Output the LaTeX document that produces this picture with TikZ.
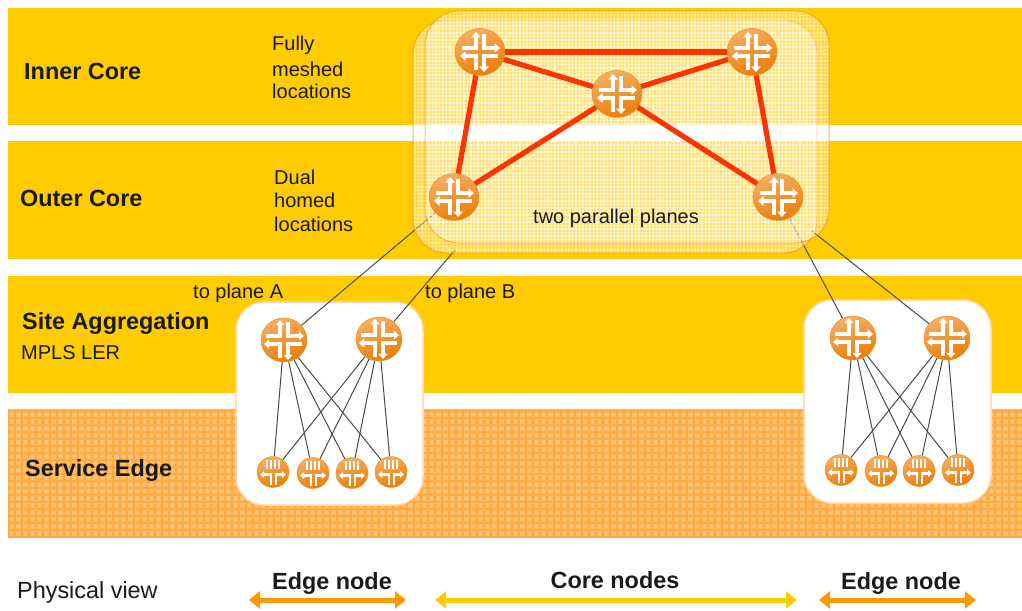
\documentclass[tikz,border=0pt]{standalone}
\usepackage{fontspec}
\setmainfont{Liberation Sans}
\usetikzlibrary{arrows.meta,shapes.geometric,backgrounds}
\pgfdeclarelayer{bands}
\pgfdeclarelayer{thin}
\pgfdeclarelayer{planes}
\pgfsetlayers{bands,thin,planes,main}
\definecolor{bandy}{HTML}{FFCC00}
\definecolor{bando}{HTML}{FFBA62}
\definecolor{gridoo}{HTML}{FFAA40}
\definecolor{gridoi}{HTML}{FFC67E}
\definecolor{rimo}{HTML}{E88A20}
\definecolor{rtl}{HTML}{F6AE62}
\definecolor{rtd}{HTML}{EA7E06}
\definecolor{spano}{HTML}{FF9900}
\definecolor{txt}{HTML}{1A1A1A}
\definecolor{redl}{HTML}{FF3300}
\definecolor{thinl}{HTML}{4A4A4A}
\newcommand{\coreglyph}[1]{%
  \begin{scope}[shift={(path picture bounding box.center)},scale=#1,white,line width=#1*3.9pt,
     >={Triangle[width=#1*9.5pt,length=#1*5.5pt]}]
    \draw[->] (-18,-4) -- (-4,-4) -- (-4,-20);
    \draw[->] (4,-18) -- (4,-4) -- (20,-4);
    \draw[->] (18,4) -- (4,4) -- (4,20);
    \draw[->] (-4,18) -- (-4,4) -- (-20,4);
  \end{scope}}
\newcommand{\edgeglyph}[1]{%
  \begin{scope}[shift={(path picture bounding box.center)},yscale=#1,white,line width=2.4pt,
     >={Triangle[width=6.5pt,length=4pt]}]
    \foreach \bx in {-6,-2,2,6}{\draw[line width=1.7pt] (\bx,-12) -- (\bx,-3);}
    \draw[->] (-2,13) -- (-2,2.5) -- (-13,2.5);
    \draw[->] (3,13) -- (3,2.5) -- (13,2.5);
  \end{scope}}
\tikzset{
  routerbase/.style={ellipse,inner sep=0pt,draw=rimo,line width=.4pt,left color=rtl,right color=rtd,shading angle=20},
  corert/.style={routerbase,minimum width=50pt,minimum height=47pt,path picture={\coreglyph{1}}},
  aggrt/.style={routerbase,minimum width=46pt,minimum height=44pt,path picture={\coreglyph{.92}}},
  edgedn/.style={routerbase,minimum width=32pt,minimum height=31pt,path picture={\edgeglyph{1}}},
  edgeup/.style={routerbase,minimum width=32pt,minimum height=31pt,path picture={\edgeglyph{-1}}},
  bandlbl/.style={anchor=base west,font=\bfseries\fontsize{23.4}{26}\selectfont,text=txt,inner sep=0pt},
  smalllbl/.style={anchor=base west,font=\fontsize{20}{24}\selectfont,text=txt,inner sep=0pt},
  viewlbl/.style={anchor=base west,font=\fontsize{23.4}{26}\selectfont,text=txt,inner sep=0pt},
  footlbl/.style={anchor=base,font=\bfseries\fontsize{23.4}{26}\selectfont,text=txt,inner sep=0pt},
  meshl/.style={redl,line width=5.2pt},
  thinw/.style={thinl,line width=1pt},
  whitebox/.style={fill=white,draw=orange!30!white,line width=1.5pt,rounded corners=28pt},
  spanarrow/.style={<->,>={Triangle[width=17pt,length=11pt]},line width=5pt},
}
\begin{document}
\begin{tikzpicture}[x=1pt,y=-1pt]
\useasboundingbox (0,0) rectangle (1022,610);
% routers
\node[corert] (ctl) at (480,52) {};
\node[corert] (ctr) at (752,52) {};
\node[corert] (cmid) at (617,94) {};
\node[corert] (cbl) at (454,197) {};
\node[corert] (cbr) at (778,197) {};
\node[aggrt] (al1) at (284,340) {};
\node[aggrt] (al2) at (379,339) {};
\node[aggrt] (ar1) at (853,338) {};
\node[aggrt] (ar2) at (947,338) {};
\node[edgedn] (el1) at (273,472) {};
\node[edgedn] (el2) at (313,473) {};
\node[edgedn] (el3) at (352,473) {};
\node[edgedn] (el4) at (391,472) {};
\node[edgeup] (er1) at (841,470) {};
\node[edgeup] (er2) at (881,471) {};
\node[edgeup] (er3) at (919,471) {};
\node[edgeup] (er4) at (958,470) {};
% free ends behind the planes
\coordinate (pb) at (455,250);
\coordinate (pc) at (812,231);
% mesh
\draw[meshl] (ctl) -- (ctr);
\draw[meshl] (ctl) -- (cmid);
\draw[meshl] (ctr) -- (cmid);
\draw[meshl] (ctl) -- (cbl);
\draw[meshl] (ctr) -- (cbr);
\draw[meshl] (cmid) -- (cbl);
\draw[meshl] (cmid) -- (cbr);
% bands
\begin{pgfonlayer}{bands}
  \fill[bandy] (8,8) rectangle (1022,125);
  \fill[bandy] (8,141) rectangle (1022,259);
  \fill[bandy] (8,276) rectangle (1022,393);
  \fill[bando] (8,409) rectangle (1022,537);
  \begin{scope}
    \clip (8,409) rectangle (1022,537);
    \foreach \gx in {11,14.5,...,1022}{\draw[gridoi,line width=.7pt] (\gx,409) -- (\gx,537);}
    \foreach \gy in {411,414.5,...,537}{\draw[gridoi,line width=.7pt] (8,\gy) -- (1022,\gy);}
    \foreach \gx in {8,15,...,1022}{\draw[gridoo,line width=1.1pt] (\gx,409) -- (\gx,537);}
    \foreach \gy in {411,418,...,537}{\draw[gridoo,line width=1.1pt] (8,\gy) -- (1022,\gy);}
  \end{scope}
  \draw[whitebox] (236,302) rectangle (423,505);
  \draw[whitebox] (804,300) rectangle (991,503);
\end{pgfonlayer}
% thin connectors
\begin{pgfonlayer}{thin}
  \foreach \ss in {al1,al2}{\foreach \tt in {el1,el2,el3,el4}{\draw[thinw] (\ss) -- (\tt);}}
  \foreach \ss in {ar1,ar2}{\foreach \tt in {er1,er2,er3,er4}{\draw[thinw] (\ss) -- (\tt);}}
  \draw[thinw] (al1) -- (cbl);
  \draw[thinw] (al2) -- (pb);
  \draw[thinw] (ar1) -- (cbr);
  \draw[thinw] (ar2) -- (pc);
\end{pgfonlayer}
% planes
\begin{pgfonlayer}{planes}
  \foreach \px/\py/\qx/\qy in {413/20/817/253,425/11/829/243}{
    \fill[white,fill opacity=.24,rounded corners=34pt] (\px,\py) rectangle (\qx,\qy);
    \begin{scope}
      \clip[rounded corners=34pt] (\px,\py) rectangle (\qx,\qy);
      \foreach \gx in {415,418.5,...,830}{\draw[white,opacity=.3,line width=1.1pt] (\gx,\py) -- (\gx,\qy);}
      \foreach \gy in {12,15.5,...,254}{\draw[white,opacity=.3,line width=1.1pt] (\px,\gy) -- (\qx,\gy);}
    \end{scope}
    \draw[orange,opacity=.55,line width=1pt,rounded corners=34pt] (\px,\py) rectangle (\qx,\qy);
  }
\end{pgfonlayer}
% labels
\node[bandlbl] (t1) at (24,79) {Inner Core};
\node[bandlbl] (t2) at (20,206) {Outer Core};
\node[bandlbl] (t3) at (22,329) {Site Aggregation};
\node[bandlbl] (t4) at (25,476) {Service Edge};
\node[smalllbl] (t5) at (21,359) {MPLS LER};
\node[smalllbl] (t6) at (272,51) {Fully};
\node[smalllbl] (t7) at (272,76) {meshed};
\node[smalllbl] (t8) at (272,98) {locations};
\node[smalllbl] (t9) at (274,184) {Dual};
\node[smalllbl] (t10) at (274,207) {homed};
\node[smalllbl] (t11) at (274,231) {locations};
\node[smalllbl] (t12) at (533,223) {two parallel planes};
\node[smalllbl] (t13) at (193,298) {to plane A};
\node[smalllbl] (t14) at (425,298) {to plane B};
\node[viewlbl] (t15) at (17,598) {Physical view};
\node[footlbl] (t16) at (332,589) {Edge node};
\node[footlbl] (t17) at (615,588) {Core nodes};
\node[footlbl] (t18) at (901,589) {Edge node};
% span arrows
\coordinate (s1a) at (249,600); \coordinate (s1b) at (406,600);
\coordinate (s2a) at (435,600); \coordinate (s2b) at (797,600);
\coordinate (s3a) at (819,600); \coordinate (s3b) at (976,600);
\draw[spanarrow,spano] (s1a) -- (s1b);
\draw[spanarrow,bandy] (s2a) -- (s2b);
\draw[spanarrow,spano] (s3a) -- (s3b);
\end{tikzpicture}
\end{document}
